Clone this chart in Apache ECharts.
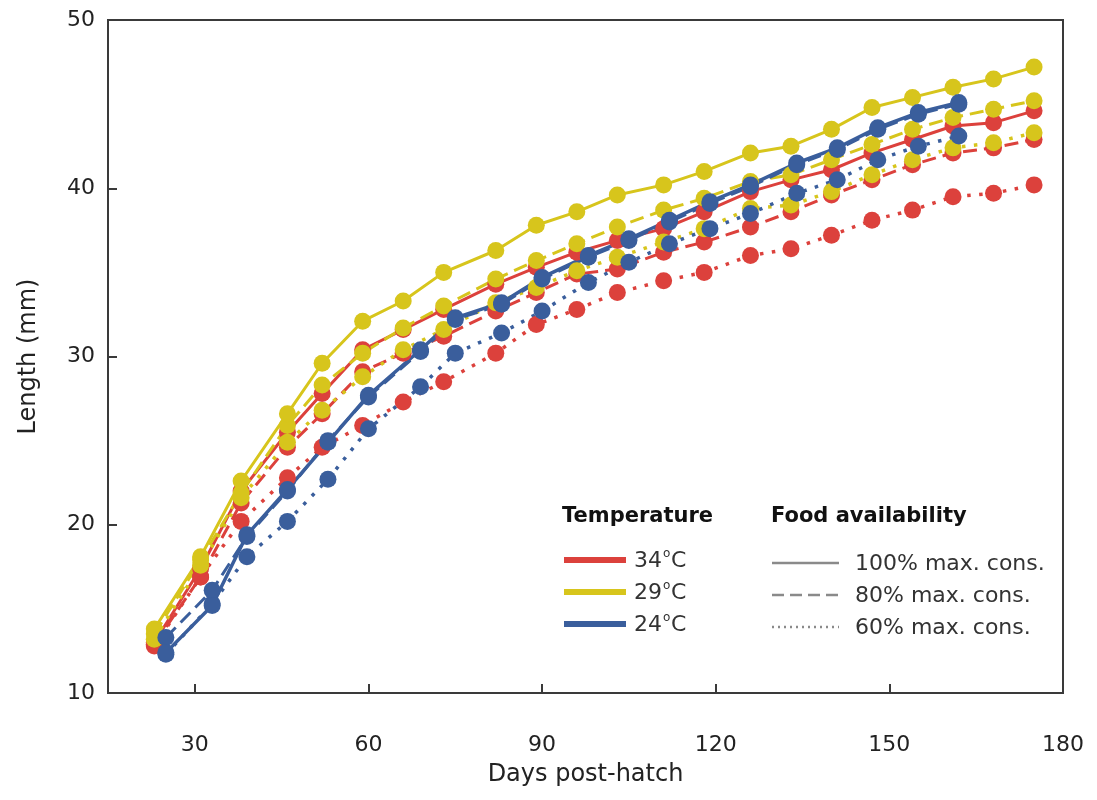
<!DOCTYPE html>
<html><head><meta charset="utf-8">
<script src="https://cdn.jsdelivr.net/npm/echarts@6/dist/echarts.min.js"></script>
<style>html,body{margin:0;padding:0;background:#fff}#c{width:1097px;height:800px}</style>
</head><body><div id="c"></div>
<script>
// Sampling days (x values)
const daysRY = [23,31,38,46,52,59,66,73,82,89,96,103,111,118,126,133,140,147,154,161,168,175];
const daysB  = [25,33,39,46,53,60,69,75,83,90,98,105,112,119,126,134,141,148,155,162];

// 34 °C (red)
const r100 = [13.0,17.4,22.0,25.5,27.8,30.4,31.6,32.8,34.3,35.3,36.2,36.9,37.6,38.6,39.8,40.5,41.1,42.1,42.9,43.7,43.9,44.6];
const r80  = [12.9,16.9,21.3,24.6,26.6,29.1,30.2,31.2,32.7,33.8,34.9,35.2,36.2,36.8,37.7,38.6,39.6,40.5,41.4,42.1,42.4,42.9];
const r60  = [12.8,16.9,20.2,22.8,24.6,25.9,27.3,28.5,30.2,31.9,32.8,33.8,34.5,35.0,36.0,36.4,37.2,38.1,38.7,39.5,39.7,40.2];
// 29 °C (yellow)
const y100 = [13.8,18.1,22.6,26.6,29.6,32.1,33.3,35.0,36.3,37.8,38.6,39.6,40.2,41.0,42.1,42.5,43.5,44.8,45.4,46.0,46.5,47.2];
const y80  = [13.5,17.9,21.9,25.9,28.3,30.2,31.7,33.0,34.6,35.7,36.7,37.7,38.7,39.4,40.4,40.8,41.7,42.6,43.5,44.2,44.7,45.2];
const y60  = [13.2,17.6,21.6,24.9,26.8,28.8,30.4,31.6,33.2,34.1,35.1,35.9,36.8,37.6,38.8,39.0,39.8,40.8,41.7,42.4,42.7,43.3];
// 24 °C (blue)
const b100 = [12.4,15.2,19.4,22.1,24.9,27.7,30.4,32.3,33.2,34.7,36.0,37.0,38.1,39.2,40.2,41.5,42.4,43.6,44.5,45.1];
const b80  = [13.3,16.1,19.3,22.0,25.0,27.6,30.3,32.2,33.1,34.6,35.9,36.9,38.0,39.1,40.1,41.4,42.3,43.5,44.4,45.0];
const b60  = [12.3,15.3,18.1,20.2,22.7,25.7,28.2,30.2,31.4,32.7,34.4,35.6,36.7,37.6,38.5,39.7,40.5,41.7,42.5,43.1];

const xTicks = [30,60,90,120,150,180];
const yTicks = [10,20,30,40,50];
const tempLabels = ['34','29','24'];
const foodLabels = ['100% max. cons.','80% max. cons.','60% max. cons.'];
const legendTitles = ['Temperature','Food availability'];

const RED = '#DC413C', YEL = '#D7C51C', BLU = '#3A5E9C';
const FONT = 'DejaVu Sans';
const AX = '#3a3a3a';
const DASH = [14,7], DOT = [3.5,8.5];

function pairs(xs, ys){ return xs.map((x,i)=>[x, ys[i]]); }
function mk(xs, ys, color, dash, width){
  return {type:'line', data:pairs(xs,ys), symbol:'circle', symbolSize:17,
    itemStyle:{color:color}, lineStyle:{color:color, width:width, type:dash},
    silent:true, animation:false};
}

const series = [
  mk(daysRY, r60, RED, DOT, 3.5), mk(daysRY, r80, RED, DASH, 3), mk(daysRY, r100, RED, 'solid', 3),
  mk(daysRY, y60, YEL, DOT, 3.5), mk(daysRY, y80, YEL, DASH, 3), mk(daysRY, y100, YEL, 'solid', 3),
  mk(daysB, b60, BLU, DOT, 3.5), mk(daysB, b80, BLU, DASH, 3), mk(daysB, b100, BLU, 'solid', 3.5)
];

// Legend (graphic)
const tcol = [RED, YEL, BLU];
const rowY = [560, 592, 624];
const g = [];
g.push({type:'text', left:562, top:506, style:{text:legendTitles[0], font:'bold 21px "DejaVu Sans"', fill:'#111'}});
g.push({type:'text', left:771, top:506, style:{text:legendTitles[1], font:'bold 21px "DejaVu Sans"', fill:'#111'}});
tempLabels.forEach((t,i)=>{
  g.push({type:'line', shape:{x1:564,y1:rowY[i],x2:626,y2:rowY[i]}, style:{stroke:tcol[i], lineWidth:6}});
  g.push({type:'text', x:634, y:rowY[i]+1, style:{text:t, fontFamily:FONT, fontSize:22, fill:'#333', verticalAlign:'middle'}});
  g.push({type:'text', x:663, y:rowY[i]-6, style:{text:'o', fontFamily:FONT, fontSize:12, fill:'#333', verticalAlign:'middle'}});
  g.push({type:'text', x:671, y:rowY[i]+1, style:{text:'C', fontFamily:FONT, fontSize:22, fill:'#333', verticalAlign:'middle'}});
});
const fdash = [null, [12,6], [2,4]];
foodLabels.forEach((t,i)=>{
  const yy = rowY[i]+3;
  g.push({type:'line', shape:{x1:772,y1:yy,x2:839,y2:yy}, style:{stroke:'#8a8a8a', lineWidth:2.5, lineDash:fdash[i]}});
  g.push({type:'text', x:855, y:yy+1, style:{text:t, fontFamily:FONT, fontSize:22, fill:'#333', verticalAlign:'middle'}});
});

const chart = echarts.init(document.getElementById('c'));
chart.setOption({
  animation:false,
  backgroundColor:'#fff',
  grid:{left:108, right:34, top:20, bottom:107, show:true, borderColor:AX, borderWidth:2, containLabel:false},
  xAxis:{type:'value', min:15, max:180,
    name:'Days post-hatch', nameLocation:'middle', nameGap:70,
    nameTextStyle:{fontFamily:FONT, fontSize:24, color:'#222'},
    axisLine:{lineStyle:{color:AX, width:2}},
    axisTick:{inside:true, length:9, lineStyle:{color:AX, width:2}, customValues:xTicks.slice(0,-1)},
    axisLabel:{fontFamily:FONT, fontSize:22, color:'#222', margin:41, customValues:xTicks},
    splitLine:{show:false}},
  yAxis:{type:'value', min:yTicks[0], max:yTicks[yTicks.length-1], interval:10,
    name:'Length (mm)', nameLocation:'middle', nameGap:67,
    nameTextStyle:{fontFamily:FONT, fontSize:24, color:'#222'},
    axisLine:{show:true, lineStyle:{color:AX, width:2}},
    axisTick:{show:true, inside:true, length:9, lineStyle:{color:AX, width:2}},
    axisLabel:{fontFamily:FONT, fontSize:22, color:'#222', margin:13},
    splitLine:{show:false}},
  series: series,
  graphic: g
});
</script></body></html>
